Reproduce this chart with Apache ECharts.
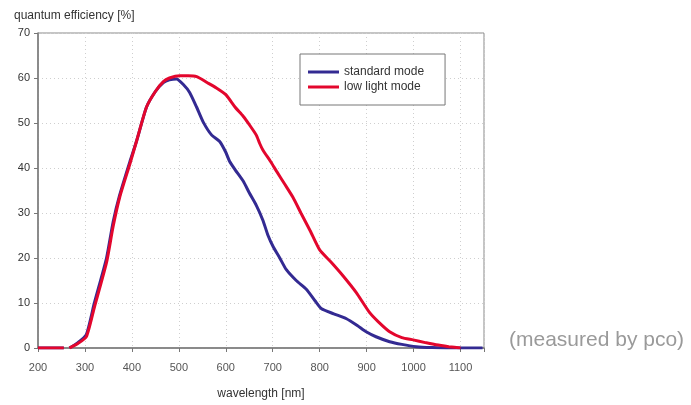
<!DOCTYPE html>
<html>
<head>
<meta charset="utf-8">
<script src="https://cdn.jsdelivr.net/npm/echarts@6/dist/echarts.min.js"></script>
<style>html,body{margin:0;padding:0;background:#fff}#c{width:691px;height:405px}</style>
</head>
<body>
<div id="c"></div>
<script>
// wavelength [nm] / quantum efficiency [%]
var stdWavelength = [200,255,null,267,285,303,320,346,360,374,396,410,431,450,467,480,495,510,523,538,552,570,587,600,608,620,637,650,665,679,690,701,715,729,750,772,790,804,830,857,880,899,920,949,975,1006,1040,1077,1100,1147];
var stdQE        = [0,0,null,0,1.2,3,10,20,28,34,41.5,46,53.5,57,59,59.6,59.8,58.5,56.8,53.5,50.2,47.3,45.9,43.5,41.5,39.6,37.1,34.5,31.7,28.4,25,22.5,20,17.4,15,13,10.5,8.7,7.6,6.5,5,3.6,2.5,1.4,0.8,0.3,0.1,0,0,0];
var lowWavelength = [200,255,null,267,285,303,320,346,360,374,396,410,431,450,467,480,502,520,538,560,580,600,620,637,651,665,672,679,695,708,725,743,760,780,800,825,850,878,906,925,949,975,999,1025,1048,1075,1100];
var lowQE        = [0,0,null,0,1,2.5,9,19,27,33.5,41,46,53.5,57,59.2,60,60.5,60.5,60.3,59,57.8,56.3,53.5,51.5,49.5,47.3,45.5,44,41.5,39.3,36.5,33.5,30,26,21.8,19,16,12.3,7.9,5.8,3.6,2.3,1.8,1.2,0.7,0.3,0];
var xTicks = {min: 200, max: 1150, interval: 100};
var yTicks = {min: 0, max: 70, interval: 10};

function pairs(xs, ys) {
  return xs.map(function (x, i) { return x === null ? [null, null] : [x, ys[i]]; });
}

var FONT = 'Liberation Sans, Arial, sans-serif';
var chart = echarts.init(document.getElementById('c'), null, {renderer: 'canvas'});
chart.setOption({
  animation: false,
  backgroundColor: '#fff',
  grid: {left: 38, right: 207, top: 33, bottom: 52, show: true, borderColor: '#8a8a8a', borderWidth: 1, containLabel: false},
  legend: {
    left: 300, top: 54, orient: 'vertical',
    padding: [12, 21, 12, 8], itemGap: 3,
    backgroundColor: '#fff', borderColor: '#777', borderWidth: 1,
    icon: 'rect', itemWidth: 31, itemHeight: 3,
    textStyle: {fontFamily: FONT, fontSize: 12, color: '#333'},
    data: ['standard mode', 'low light mode']
  },
  xAxis: {
    type: 'value', min: xTicks.min, max: xTicks.max, interval: xTicks.interval,
    name: 'wavelength [nm]', nameLocation: 'middle', nameGap: 40,
    nameTextStyle: {fontFamily: FONT, fontSize: 12, color: '#333'},
    axisLine: {show: true, lineStyle: {color: '#777', width: 1.5}},
    axisTick: {show: true, length: 4, lineStyle: {color: '#777'}},
    axisLabel: {fontFamily: FONT, fontSize: 11, color: '#555', margin: 14,
      formatter: function (v) { return v > 1100 ? '' : String(v); }},
    splitLine: {show: true, lineStyle: {color: '#cfcfcf', type: [1, 3], width: 1}}
  },
  yAxis: {
    type: 'value', min: yTicks.min, max: yTicks.max, interval: yTicks.interval,
    axisLine: {show: true, lineStyle: {color: '#777', width: 1.5}},
    axisTick: {show: true, length: 4, lineStyle: {color: '#777'}},
    axisLabel: {fontFamily: FONT, fontSize: 11, color: '#333', margin: 8},
    splitLine: {show: true, lineStyle: {color: '#cfcfcf', type: [1, 3], width: 1}}
  },
  graphic: [
    {type: 'text', left: 14, top: 10, style: {text: 'quantum efficiency [%]', font: '12px ' + FONT, fill: '#333'}},
    {type: 'text', left: 509, top: 330, style: {text: '(measured by pco)', font: '21px ' + FONT, fill: '#9a9a9a'}}
  ],
  series: [
    {name: 'standard mode', type: 'line', data: pairs(stdWavelength, stdQE), showSymbol: false, smooth: 0.2,
      connectNulls: false, lineStyle: {color: '#332a92', width: 3}, itemStyle: {color: '#332a92'}, z: 2},
    {name: 'low light mode', type: 'line', data: pairs(lowWavelength, lowQE), showSymbol: false, smooth: 0.2,
      connectNulls: false, lineStyle: {color: '#e3062d', width: 3}, itemStyle: {color: '#e3062d'}, z: 3}
  ]
});
</script>
</body>
</html>
